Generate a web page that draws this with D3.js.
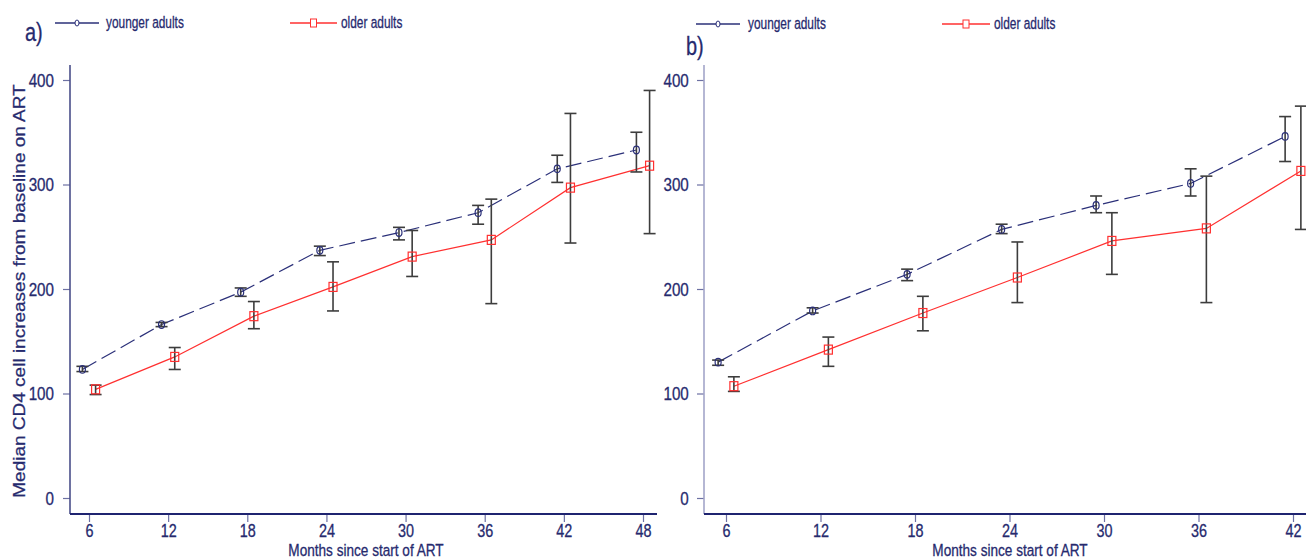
<!DOCTYPE html>
<html>
<head>
<meta charset="utf-8">
<script src="https://cdn.jsdelivr.net/npm/d3@7"></script>
<style>
  html, body { margin: 0; padding: 0; background: #fff; }
  svg { display: block; font-family: "Liberation Sans", Arial, sans-serif; }
  svg text { stroke: #262a6e; stroke-width: 0.3px; }
</style>
</head>
<body>
<svg id="chart" width="1306" height="560"></svg>
<script>
// ---- data ----
const monthsA   = [6, 12, 18, 24, 30, 36, 42, 48];
const youngA    = [123, 166, 197, 237, 254, 273, 315, 333];
const youngALo  = [121, 164, 193, 232, 247, 262, 302, 312];
const youngAHi  = [126, 168, 201, 241, 259, 280, 328, 350];
const olderA    = [104, 135, 174, 202, 231, 247, 297, 318];
const olderALo  = [99, 123, 162, 179, 212, 186, 244, 253];
const olderAHi  = [108, 144, 188, 226, 256, 286, 368, 390];

const monthsB   = [6, 12, 18, 24, 30, 36, 42];
const youngB    = [130, 179, 214, 257, 280, 301, 346];
const youngBLo  = [127, 177, 208, 253, 273, 289, 322];
const youngBHi  = [132, 182, 219, 262, 289, 315, 365];
const olderB    = [107, 142, 177, 211, 246, 258, 313];
const olderBLo  = [102, 126, 160, 187, 214, 187, 257];
const olderBHi  = [116, 154, 193, 245, 273, 308, 375];

const yTicks = [0, 100, 200, 300, 400];
const seriesNames = ["younger adults", "older adults"];
const panelLabels = ["a)", "b)"];
const xTitle = "Months since start of ART";
const yTitle = "Median CD4 cell increases from baseline on ART";

// ---- styling ----
const NAVY = "#262a6e";
const YOUNG_C = "#2b3079";
const OLD_C = "#ff3030";
const ERR_C = "#3d3d3d";
const SX = 0.8; // horizontal text compression seen in the picture

const svg = d3.select("#chart");

const y = d3.scaleLinear().domain([0, 400]).range([498, 80]);
const yTop = 65, xAxisY = 514;

const panels = [
  { months: monthsA, young: youngA, yLo: youngALo, yHi: youngAHi,
    older: olderA, oLo: olderALo, oHi: olderAHi,
    xDom: [6, 48], xRange: [89, 643], axisLeft: 70, axisRight: 657,
    yAxisColor: "#4a4f8a", labelGap: -20, label: panelLabels[0],
    labelPos: [25, 41], legY: 23, leg: [[55, 99, 106], [290, 337, 341]],
    titleX: 366 },
  { months: monthsB, young: youngB, yLo: youngBLo, yHi: youngBHi,
    older: olderB, oLo: olderBLo, oHi: olderBHi,
    xDom: [6, 42], xRange: [726, 1293], axisLeft: 704, axisRight: 1306,
    yAxisColor: "#a3a5c9", labelGap: -19, label: panelLabels[1],
    labelPos: [686, 55], legY: 24, leg: [[696, 740, 748], [942, 990, 994]],
    titleX: 1010 }
];

panels.forEach(p => {
  const x = d3.scaleLinear().domain(p.xDom).range(p.xRange);
  const g = svg.append("g");

  // y axis
  const ya = g.append("g").attr("transform", `translate(${p.axisLeft},0)`)
    .call(d3.axisLeft(y).tickValues(yTicks).tickSize(7).tickSizeOuter(0));
  ya.select(".domain").remove();
  ya.selectAll(".tick line").attr("stroke", "#6d71a3").attr("stroke-width", 1.2);
  ya.selectAll(".tick text").attr("x", p.labelGap).attr("fill", NAVY)
    .style("font-size", "19px").attr("transform", `scale(${SX},1)`);
  g.append("line").attr("x1", p.axisLeft).attr("x2", p.axisLeft)
    .attr("y1", yTop).attr("y2", xAxisY)
    .attr("stroke", p.yAxisColor).attr("stroke-width", 1.6);

  // x axis
  const xa = g.append("g").attr("transform", `translate(0,${xAxisY})`)
    .call(d3.axisBottom(x).tickValues(p.months).tickFormat(d3.format("d")).tickSize(8).tickSizeOuter(0));
  xa.select(".domain").remove();
  xa.selectAll(".tick line").attr("stroke", "#6d71a3").attr("stroke-width", 1.2);
  xa.selectAll(".tick text").attr("y", 23).attr("dy", null).attr("fill", NAVY)
    .style("font-size", "18px").attr("transform", `scale(${SX},1)`);
  g.append("line").attr("x1", p.axisLeft).attr("x2", p.axisRight)
    .attr("y1", xAxisY).attr("y2", xAxisY)
    .attr("stroke", "#1f2470").attr("stroke-width", 1.8);

  // x title
  g.append("text").attr("transform", `translate(${p.titleX},555.5) scale(${SX},1)`)
    .attr("text-anchor", "middle").attr("fill", NAVY)
    .style("font-size", "17px").text(xTitle);

  const xy = d => x(d - 0.5);
  const xo = d => x(d + 0.5);

  // lines
  const yLine = d3.line().x((d, i) => xy(p.months[i])).y(d => y(d));
  const oLine = d3.line().x((d, i) => xo(p.months[i])).y(d => y(d));
  g.append("path").datum(p.young).attr("d", yLine).attr("fill", "none")
    .attr("stroke", YOUNG_C).attr("stroke-width", 1.2).attr("stroke-dasharray", "16,6");
  g.append("path").datum(p.older).attr("d", oLine).attr("fill", "none")
    .attr("stroke", OLD_C).attr("stroke-width", 1.2);

  // error bars
  function errBars(xf, lo, hi) {
    const eb = g.append("g").attr("stroke", ERR_C).attr("stroke-width", 1.6);
    p.months.forEach((m, i) => {
      const cx = xf(m);
      eb.append("line").attr("x1", cx).attr("x2", cx).attr("y1", y(lo[i])).attr("y2", y(hi[i]));
      eb.append("line").attr("x1", cx - 6).attr("x2", cx + 6).attr("y1", y(lo[i])).attr("y2", y(lo[i]));
      eb.append("line").attr("x1", cx - 6).attr("x2", cx + 6).attr("y1", y(hi[i])).attr("y2", y(hi[i]));
    });
  }
  errBars(xy, p.yLo, p.yHi);
  errBars(xo, p.oLo, p.oHi);

  // markers
  g.append("g").selectAll("ellipse").data(p.young).join("ellipse")
    .attr("cx", (d, i) => xy(p.months[i])).attr("cy", d => y(d))
    .attr("rx", 3).attr("ry", 3.8).attr("fill", "none")
    .attr("stroke", YOUNG_C).attr("stroke-width", 1.2);
  g.append("g").selectAll("rect").data(p.older).join("rect")
    .attr("x", (d, i) => xo(p.months[i]) - 4).attr("y", d => y(d) - 4.5)
    .attr("width", 8).attr("height", 9).attr("fill", "none")
    .attr("stroke", OLD_C).attr("stroke-width", 1.2);

  // panel label
  g.append("text").attr("transform", `translate(${p.labelPos[0]},${p.labelPos[1]}) scale(${SX},1)`)
    .attr("fill", NAVY).style("font-size", "25px").text(p.label);

  // legend
  const ly = p.legY;
  const [l0, l1] = p.leg;
  g.append("line").attr("x1", l0[0]).attr("x2", l0[1]).attr("y1", ly).attr("y2", ly)
    .attr("stroke", YOUNG_C).attr("stroke-width", 1.3);
  g.append("ellipse").attr("cx", (l0[0] + l0[1]) / 2).attr("cy", ly).attr("rx", 2).attr("ry", 3)
    .attr("fill", "#fff").attr("stroke", YOUNG_C).attr("stroke-width", 1);
  g.append("text").attr("transform", `translate(${l0[2]},${ly + 5}) scale(0.72,1)`)
    .attr("fill", NAVY).style("font-size", "16.5px").text(seriesNames[0]);
  g.append("line").attr("x1", l1[0]).attr("x2", l1[1]).attr("y1", ly).attr("y2", ly)
    .attr("stroke", OLD_C).attr("stroke-width", 1.3);
  g.append("rect").attr("x", (l1[0] + l1[1]) / 2 - 3).attr("y", ly - 4).attr("width", 6).attr("height", 8)
    .attr("fill", "#fff").attr("stroke", OLD_C).attr("stroke-width", 1);
  g.append("text").attr("transform", `translate(${l1[2]},${ly + 5}) scale(0.72,1)`)
    .attr("fill", NAVY).style("font-size", "16.5px").text(seriesNames[1]);
});

// y title (left panel only)
svg.append("text").attr("transform", `translate(25,291) scale(0.85,1) rotate(-90)`)
  .attr("text-anchor", "middle").attr("fill", NAVY)
  .style("font-size", "19px").text(yTitle);
</script>
</body>
</html>
